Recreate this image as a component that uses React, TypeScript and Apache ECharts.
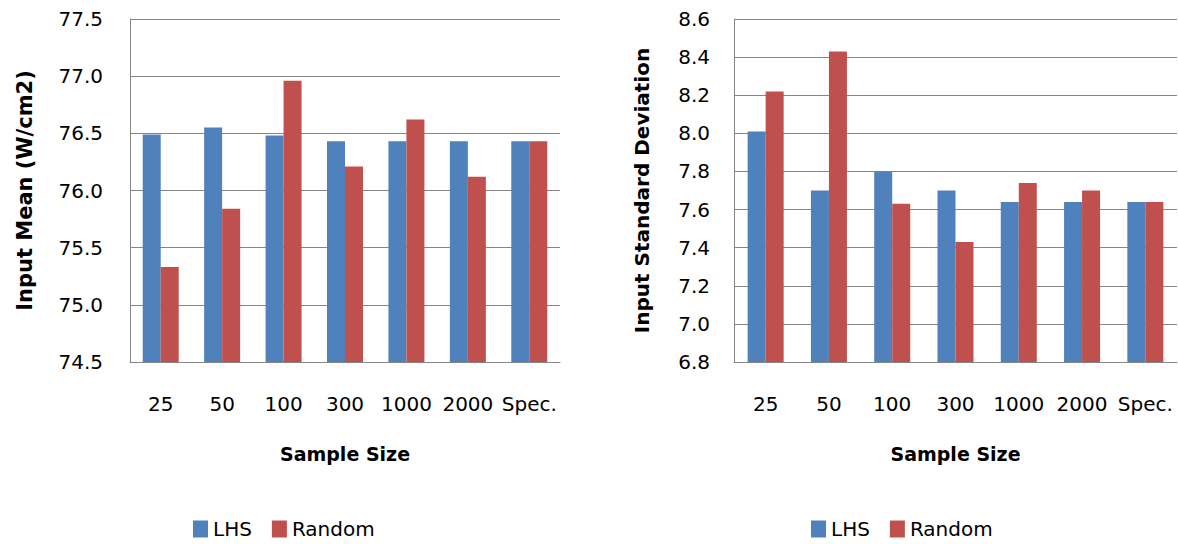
import React, { useEffect, useRef } from "react";
import * as echarts from "echarts";

// Sample sizes on the category axis
const categories = ["25", "50", "100", "300", "1000", "2000", "Spec."];

// Input mean (W/cm2)
const meanLHS = [76.49, 76.55, 76.48, 76.43, 76.43, 76.43, 76.43];
const meanRandom = [75.33, 75.84, 76.96, 76.21, 76.62, 76.12, 76.43];

// Input standard deviation
const sdLHS = [8.01, 7.7, 7.8, 7.7, 7.64, 7.64, 7.64];
const sdRandom = [8.22, 8.43, 7.63, 7.43, 7.74, 7.7, 7.64];

// Value-axis ranges
const meanAxis = { min: 74.5, max: 77.5, interval: 0.5 };
const sdAxis = { min: 6.8, max: 8.6, interval: 0.2 };

const BLUE = "#4F81BD";
const RED = "#C0504D";
const GRID = "#868686";
const FONT = "DejaVu Sans";

function valueAxis(gridIndex: number, range: { min: number; max: number; interval: number }, name: string, margin: number, nameGap: number, nameSize: number) {
  return {
    type: "value",
    gridIndex,
    min: range.min,
    max: range.max,
    interval: range.interval,
    name,
    nameLocation: "middle",
    nameRotate: 90,
    nameGap,
    nameTextStyle: { fontFamily: FONT, fontSize: nameSize, fontWeight: "bold", color: "#000" },
    axisLine: { show: true, lineStyle: { color: GRID, width: 1 } },
    axisTick: { show: false },
    axisLabel: {
      margin,
      fontFamily: FONT,
      fontSize: 20,
      color: "#000",
      formatter: (v: number) => v.toFixed(1),
    },
    splitLine: { show: true, lineStyle: { color: GRID, width: 1 } },
  };
}

function categoryAxis(gridIndex: number) {
  return {
    type: "category",
    gridIndex,
    data: categories,
    name: "Sample Size",
    nameLocation: "middle",
    nameGap: 82,
    nameTextStyle: { fontFamily: FONT, fontSize: 19, fontWeight: "bold", color: "#000" },
    axisLine: { show: true, lineStyle: { color: GRID, width: 1 } },
    axisTick: { show: false },
    axisLabel: { margin: 32, fontFamily: FONT, fontSize: 20, color: "#000", interval: 0 },
    splitLine: { show: false },
  };
}

function barSeries(name: string, data: number[], color: string, idx: number) {
  return {
    type: "bar",
    name,
    data,
    xAxisIndex: idx,
    yAxisIndex: idx,
    barWidth: 18,
    barGap: "0%",
    itemStyle: { color },
  };
}

function legend(left: number) {
  return {
    left,
    top: 514,
    itemWidth: 15,
    itemHeight: 17,
    itemGap: 20,
    icon: "rect",
    textStyle: { fontFamily: FONT, fontSize: 20, color: "#000" },
    data: ["LHS", "Random"],
  };
}

export default function App() {
  const ref = useRef<HTMLDivElement>(null);

  useEffect(() => {
    if (!ref.current) return;
    const chart = echarts.init(ref.current, undefined, { renderer: "svg" });
    chart.setOption({
      animation: false,
      backgroundColor: "#fff",
      grid: [
        { left: 130, right: 618, top: 19, bottom: 182 },
        { left: 734, right: 1, top: 19, bottom: 182 },
      ],
      legend: [legend(188), legend(806)],
      xAxis: [categoryAxis(0), categoryAxis(1)],
      yAxis: [
        valueAxis(0, meanAxis, "Input Mean (W/cm2)", 27, 95, 21),
        valueAxis(1, sdAxis, "Input Standard Deviation", 24, 82, 20),
      ],
      series: [
        barSeries("LHS", meanLHS, BLUE, 0),
        barSeries("Random", meanRandom, RED, 0),
        barSeries("LHS", sdLHS, BLUE, 1),
        barSeries("Random", sdRandom, RED, 1),
      ],
    });
    return () => chart.dispose();
  }, []);

  return (
    <div
      ref={ref}
      style={{ position: "fixed", left: 0, top: 0, width: 1178, height: 544, background: "#fff" }}
    />
  );
}
